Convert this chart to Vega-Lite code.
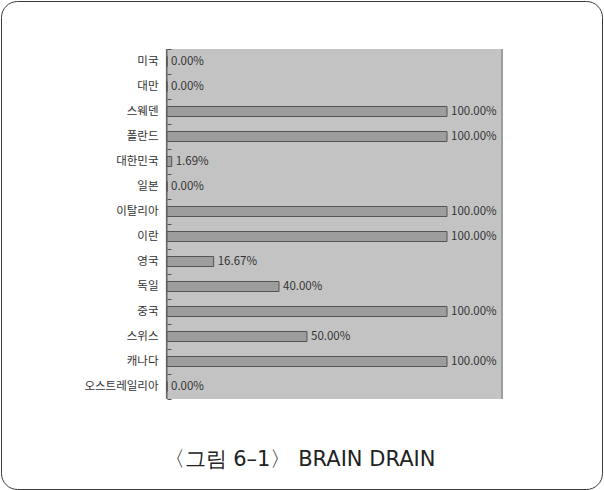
{
  "$schema": "https://vega.github.io/schema/vega-lite/v6.json",
  "width": 601,
  "height": 488,
  "autosize": {"type": "none"},
  "padding": {"left": 1, "top": 1, "right": 2, "bottom": 1},
  "background": "white",
  "config": {
    "font": "Noto Sans CJK KR",
    "view": {"stroke": "#3a3a3a", "strokeWidth": 1, "cornerRadius": 16, "fill": "white"}
  },
  "title": {
    "text": "〈그림 6–1〉 BRAIN DRAIN",
    "orient": "bottom",
    "anchor": "middle",
    "frame": "group",
    "baseline": "alphabetic",
    "offset": -23,
    "dx": -2,
    "font": "DejaVu Sans",
    "fontSize": 21,
    "fontWeight": "normal",
    "color": "#222222"
  },
  "data": {
    "values": [
      {"country": "미국", "share": 0},
      {"country": "대만", "share": 0},
      {"country": "스웨덴", "share": 1},
      {"country": "폴란드", "share": 1},
      {"country": "대한민국", "share": 0.0169},
      {"country": "일본", "share": 0},
      {"country": "이탈리아", "share": 1},
      {"country": "이란", "share": 1},
      {"country": "영국", "share": 0.1667},
      {"country": "독일", "share": 0.4},
      {"country": "중국", "share": 1},
      {"country": "스위스", "share": 0.5},
      {"country": "캐나다", "share": 1},
      {"country": "오스트레일리아", "share": 0}
    ]
  },
  "encoding": {
    "y": {
      "field": "country",
      "type": "nominal",
      "sort": null,
      "scale": {"range": [48, 398], "paddingInner": 0, "paddingOuter": 0},
      "axis": {
        "title": null,
        "domain": false,
        "grid": false,
        "zindex": 1,
        "offset": -166,
        "tickBand": "extent",
        "tickSize": -4,
        "tickColor": "#555555",
        "tickWidth": 1,
        "labelPadding": 13,
        "labelFontSize": 11.5,
        "labelColor": "#333333",
        "labelFont": "Noto Sans CJK KR"
      }
    }
  },
  "layer": [
    {
      "mark": {"type": "rect", "fill": "#c3c3c3"},
      "encoding": {
        "x": {"datum": 0, "type": "quantitative", "scale": {"domain": [-0.59286, 1.55357], "nice": false, "zero": false}, "axis": null},
        "x2": {"datum": 1.2}
      }
    },
    {
      "mark": {"type": "rect", "fill": "#9c9c9c"},
      "encoding": {
        "x": {"datum": 1.193, "type": "quantitative"},
        "x2": {"datum": 1.2}
      }
    },
    {
      "mark": {"type": "rect", "fill": "#686868"},
      "encoding": {
        "x": {"datum": -0.004, "type": "quantitative"},
        "x2": {"datum": 0.002}
      }
    },
    {
      "mark": {"type": "bar", "fill": "#9d9d9d", "stroke": "#555555", "strokeWidth": 1, "height": {"band": 0.4}},
      "encoding": {
        "x": {"field": "share", "type": "quantitative"}
      }
    },
    {
      "mark": {"type": "text", "align": "left", "baseline": "middle", "dx": 4, "fontSize": 11.5, "color": "#333333", "font": "Noto Sans CJK KR"},
      "encoding": {
        "x": {"field": "share", "type": "quantitative"},
        "text": {"field": "share", "type": "quantitative", "format": ".2%"}
      }
    }
  ]
}
